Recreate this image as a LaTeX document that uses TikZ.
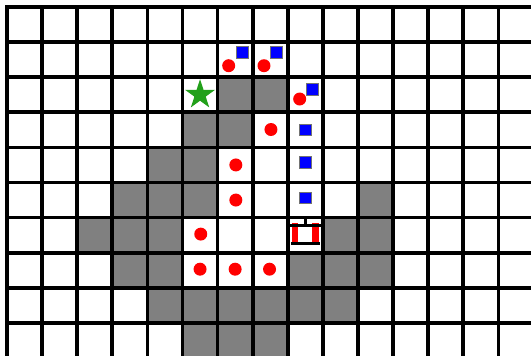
\documentclass[tikz,border=0pt]{standalone}
\usetikzlibrary{shapes.geometric}
\definecolor{wallGray}{RGB}{128,128,128}
\definecolor{pathRed}{RGB}{255,0,0}
\definecolor{markBlue}{RGB}{0,0,255}
\definecolor{goalGreen}{RGB}{34,160,26}

\begin{document}
\begin{tikzpicture}[
  wall/.style={
    fill=wallGray,
  },
  gridline/.style={
    draw=black,
    line width=3pt,
    line cap=rect,
  },
  dot/.style={
    circle,
    fill=pathRed,
    inner sep=0pt,
    minimum size=3.7mm,
  },
  bluemark/.style={
    rectangle,
    fill=markBlue,
    draw=black!55,
    line width=0.4pt,
    inner sep=0pt,
    minimum size=3.3mm,
  },
  goal/.style={
    star,
    star points=5,
    star point ratio=2.618,
    fill=goalGreen,
    inner sep=0pt,
    minimum size=8.9mm,
  },
  wheel/.style={
    fill=pathRed,
  },
  axle/.style={
    draw=black,
    line width=2.5pt,
  },
]

  \useasboundingbox (-0.2,0.2) rectangle (14.93,-9.943);
  \clip (-0.2,0.2) rectangle (14.93,-9.943);
  \fill[white] (-0.2,0.2) rectangle (14.93,-9.943);

  % obstacles
  \foreach \c/\r in {6/2,7/2, 5/3,6/3, 4/4,5/4, 3/5,4/5,5/5,10/5,
                     2/6,3/6,4/6,9/6,10/6, 3/7,4/7,8/7,9/7,10/7,
                     4/8,5/8,6/8,7/8,8/8,9/8, 5/9,6/9,7/9}
    \fill[wall] (\c,-\r) rectangle ++(1,-1);

  \draw[gridline] (0,-10) grid (15,0);

  % goal
  \node[goal] (goal) at (5.5,-2.5) {};

  % red path
  \node[dot] (p1) at (6.316,-1.672) {};
  \node[dot] (p2) at (7.322,-1.672) {};
  \node[dot] (p3) at (8.339,-2.621) {};
  \node[dot] (p4) at (7.52,-3.49) {};
  \node[dot] (p5) at (6.52,-4.5) {};
  \node[dot] (p6) at (6.52,-5.5) {};
  \node[dot] (p7) at (5.52,-6.47) {};
  \node[dot] (p8) at (5.5,-7.47) {};
  \node[dot] (p9) at (6.5,-7.47) {};
  \node[dot] (p10) at (7.48,-7.47) {};

  % blue path
  \node[bluemark] (q1) at (6.695,-1.282) {};
  \node[bluemark] (q2) at (7.672,-1.282) {};
  \node[bluemark] (q3) at (8.698,-2.336) {};
  \node[bluemark] (q4) at (8.5,-3.5) {};
  \node[bluemark] (q5) at (8.5,-4.42) {};
  \node[bluemark] (q6) at (8.5,-5.43) {};

  % robot
  \coordinate (robot) at (8.5,-6.5);
  \begin{scope}[shift={(robot)}]
    \fill[wheel] (-0.38,-0.29) rectangle (-0.2,0.36);
    \fill[wheel] (0.2,-0.29) rectangle (0.38,0.36);
    \draw[axle] (-0.43,0.285) -- (0.45,0.285);
    \draw[axle] (-0.41,-0.25) -- (0.41,-0.25);
    \draw[black, line width=2pt] (0,0.28) -- (0,0.47);
  \end{scope}

\end{tikzpicture}
\end{document}
